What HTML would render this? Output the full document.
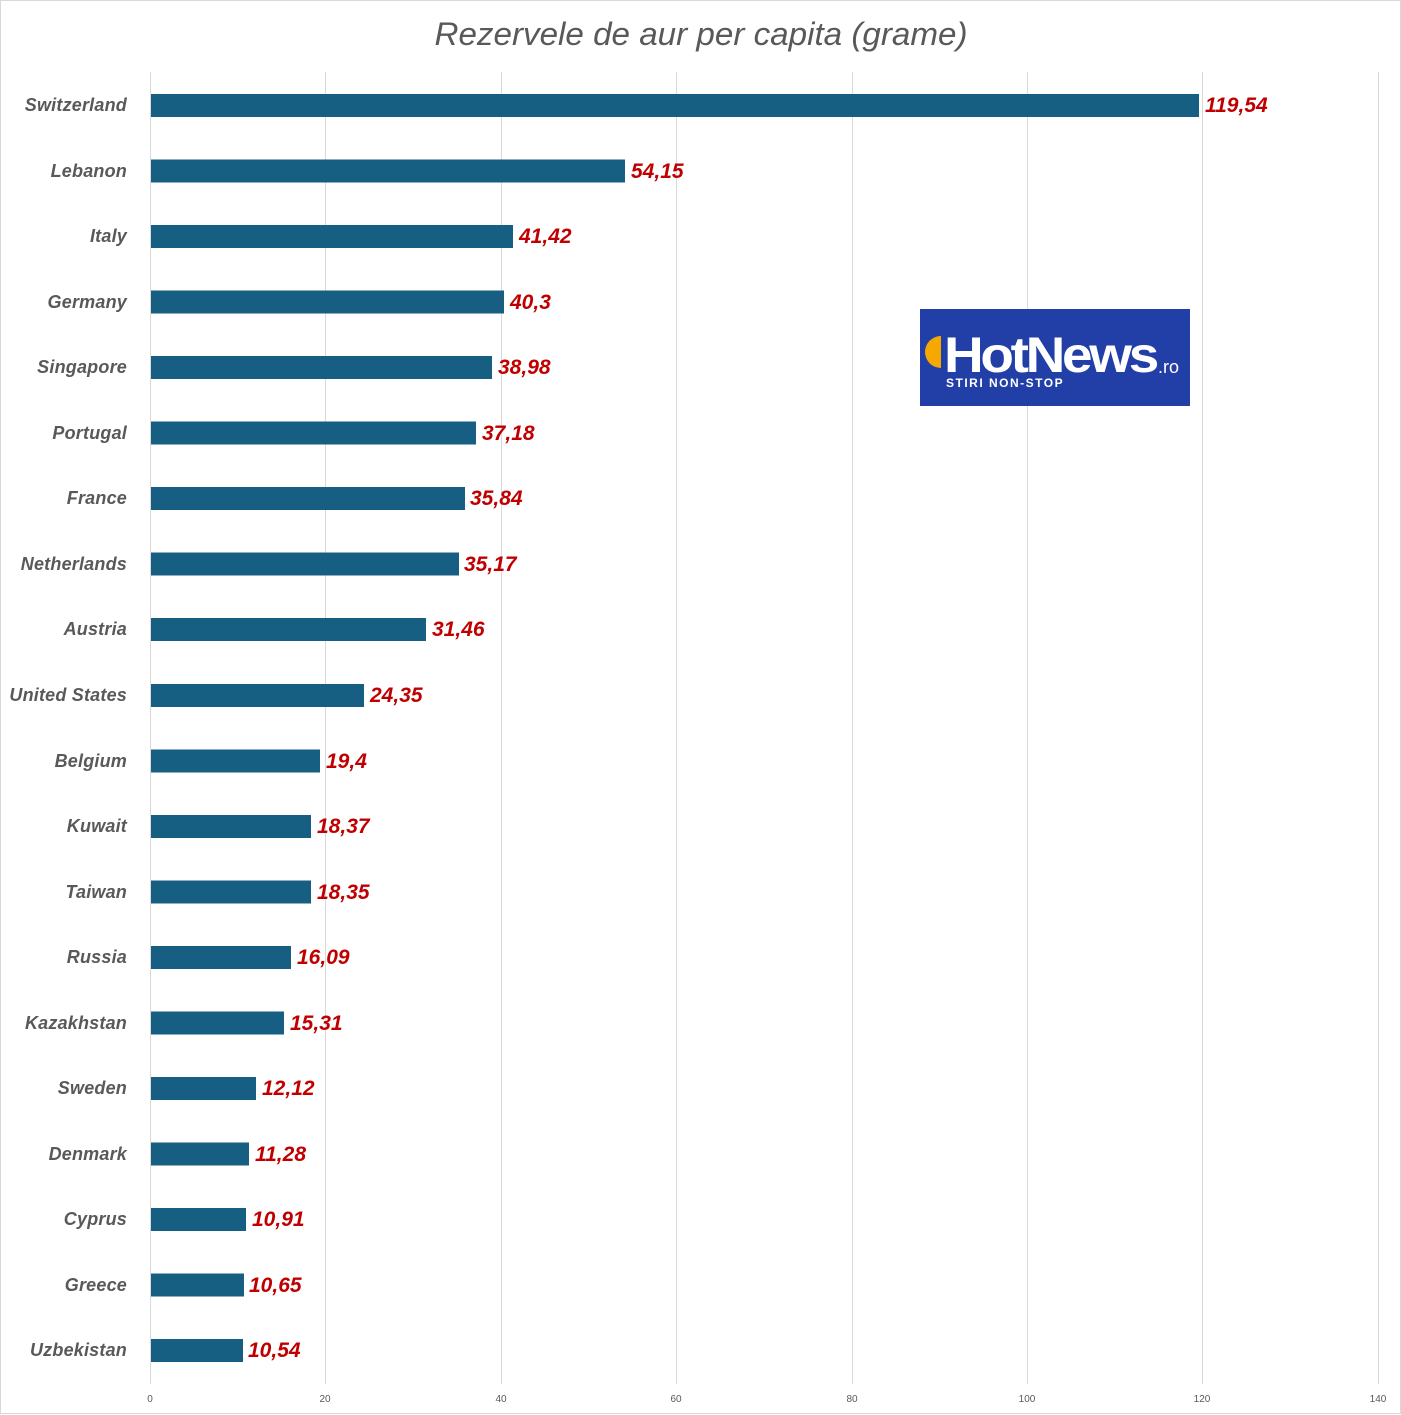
<!DOCTYPE html>
<html><head><meta charset="utf-8"><style>
html,body{margin:0;padding:0;background:#fff;}
svg{display:block;}
.l{font-family:"Liberation Sans",sans-serif;font-weight:bold;font-style:italic;font-size:18px;fill:#595959;letter-spacing:0.2px;}
.v{font-family:"Liberation Sans",sans-serif;font-weight:bold;font-style:italic;font-size:21px;fill:#c00000;}
.t{font-family:"Liberation Sans",sans-serif;font-size:10px;fill:#595959;}
</style></head><body>
<svg width="1401" height="1415" xmlns="http://www.w3.org/2000/svg">
<rect x="0.5" y="0.5" width="1400" height="1413" fill="#fff" stroke="#d9d9d9"/>
<text x="701" y="45" text-anchor="middle" textLength="533" lengthAdjust="spacingAndGlyphs" style="font-family:'Liberation Sans',sans-serif;font-style:italic;font-size:32px;fill:#595959;">Rezervele de aur per capita (grame)</text>
<g stroke="#d9d9d9" stroke-width="1">
<line x1="150.5" y1="72" x2="150.5" y2="1384"/>
<line x1="325.5" y1="72" x2="325.5" y2="1384"/>
<line x1="501.5" y1="72" x2="501.5" y2="1384"/>
<line x1="676.5" y1="72" x2="676.5" y2="1384"/>
<line x1="852.5" y1="72" x2="852.5" y2="1384"/>
<line x1="1027.5" y1="72" x2="1027.5" y2="1384"/>
<line x1="1202.5" y1="72" x2="1202.5" y2="1384"/>
<line x1="1378.5" y1="72" x2="1378.5" y2="1384"/>
</g>
<g text-anchor="middle">
<text x="150" y="1402" class="t">0</text><text x="325" y="1402" class="t">20</text><text x="501" y="1402" class="t">40</text><text x="676" y="1402" class="t">60</text><text x="852" y="1402" class="t">80</text><text x="1027" y="1402" class="t">100</text><text x="1202" y="1402" class="t">120</text><text x="1378" y="1402" class="t">140</text>
</g>
<g fill="#175f82">
<rect x="151" y="94" width="1048" height="23"/>
<rect x="151" y="159.5" width="474" height="23"/>
<rect x="151" y="225" width="362" height="23"/>
<rect x="151" y="290.5" width="353" height="23"/>
<rect x="151" y="356" width="341" height="23"/>
<rect x="151" y="421.5" width="325" height="23"/>
<rect x="151" y="487" width="314" height="23"/>
<rect x="151" y="552.5" width="308" height="23"/>
<rect x="151" y="618" width="275" height="23"/>
<rect x="151" y="684" width="213" height="23"/>
<rect x="151" y="749.5" width="169" height="23"/>
<rect x="151" y="815" width="160" height="23"/>
<rect x="151" y="880.5" width="160" height="23"/>
<rect x="151" y="946" width="140" height="23"/>
<rect x="151" y="1011.5" width="133" height="23"/>
<rect x="151" y="1077" width="105" height="23"/>
<rect x="151" y="1142.5" width="98" height="23"/>
<rect x="151" y="1208" width="95" height="23"/>
<rect x="151" y="1273.5" width="93" height="23"/>
<rect x="151" y="1339" width="92" height="23"/>
</g>
<g text-anchor="end">
<text class="l" x="127" y="111">Switzerland</text>
<text class="l" x="127" y="177">Lebanon</text>
<text class="l" x="127" y="242">Italy</text>
<text class="l" x="127" y="308">Germany</text>
<text class="l" x="127" y="373">Singapore</text>
<text class="l" x="127" y="439">Portugal</text>
<text class="l" x="127" y="504">France</text>
<text class="l" x="127" y="570">Netherlands</text>
<text class="l" x="127" y="635">Austria</text>
<text class="l" x="127" y="701">United States</text>
<text class="l" x="127" y="767">Belgium</text>
<text class="l" x="127" y="832">Kuwait</text>
<text class="l" x="127" y="898">Taiwan</text>
<text class="l" x="127" y="963">Russia</text>
<text class="l" x="127" y="1029">Kazakhstan</text>
<text class="l" x="127" y="1094">Sweden</text>
<text class="l" x="127" y="1160">Denmark</text>
<text class="l" x="127" y="1225">Cyprus</text>
<text class="l" x="127" y="1291">Greece</text>
<text class="l" x="127" y="1356">Uzbekistan</text>
</g>
<g>
<text class="v" x="1205" y="112">119,54</text>
<text class="v" x="631" y="178">54,15</text>
<text class="v" x="519" y="243">41,42</text>
<text class="v" x="510" y="309">40,3</text>
<text class="v" x="498" y="374">38,98</text>
<text class="v" x="482" y="440">37,18</text>
<text class="v" x="470" y="505">35,84</text>
<text class="v" x="464" y="571">35,17</text>
<text class="v" x="432" y="636">31,46</text>
<text class="v" x="370" y="702">24,35</text>
<text class="v" x="326" y="768">19,4</text>
<text class="v" x="317" y="833">18,37</text>
<text class="v" x="317" y="899">18,35</text>
<text class="v" x="297" y="964">16,09</text>
<text class="v" x="290" y="1030">15,31</text>
<text class="v" x="262" y="1095">12,12</text>
<text class="v" x="255" y="1161">11,28</text>
<text class="v" x="252" y="1226">10,91</text>
<text class="v" x="249" y="1292">10,65</text>
<text class="v" x="248" y="1357">10,54</text>
</g>
<g>
<rect x="920" y="309" width="270" height="97" fill="#213fa6"/>
<circle cx="941" cy="352" r="16" fill="#f5a800"/>
<rect x="941" y="330" width="20" height="45" fill="#213fa6"/>
<text x="944" y="372" style="font-family:'Liberation Sans',sans-serif;font-weight:bold;font-size:50px;fill:#fff;letter-spacing:-3px;" textLength="212" lengthAdjust="spacingAndGlyphs">HotNews</text>
<text x="1158" y="373" style="font-family:'Liberation Sans',sans-serif;font-size:18px;fill:#fff;">.ro</text>
<text x="946" y="387" style="font-family:'Liberation Sans',sans-serif;font-weight:bold;font-size:12px;fill:#fff;letter-spacing:1.5px;">STIRI NON-STOP</text>
</g>
</svg>
</body></html>
